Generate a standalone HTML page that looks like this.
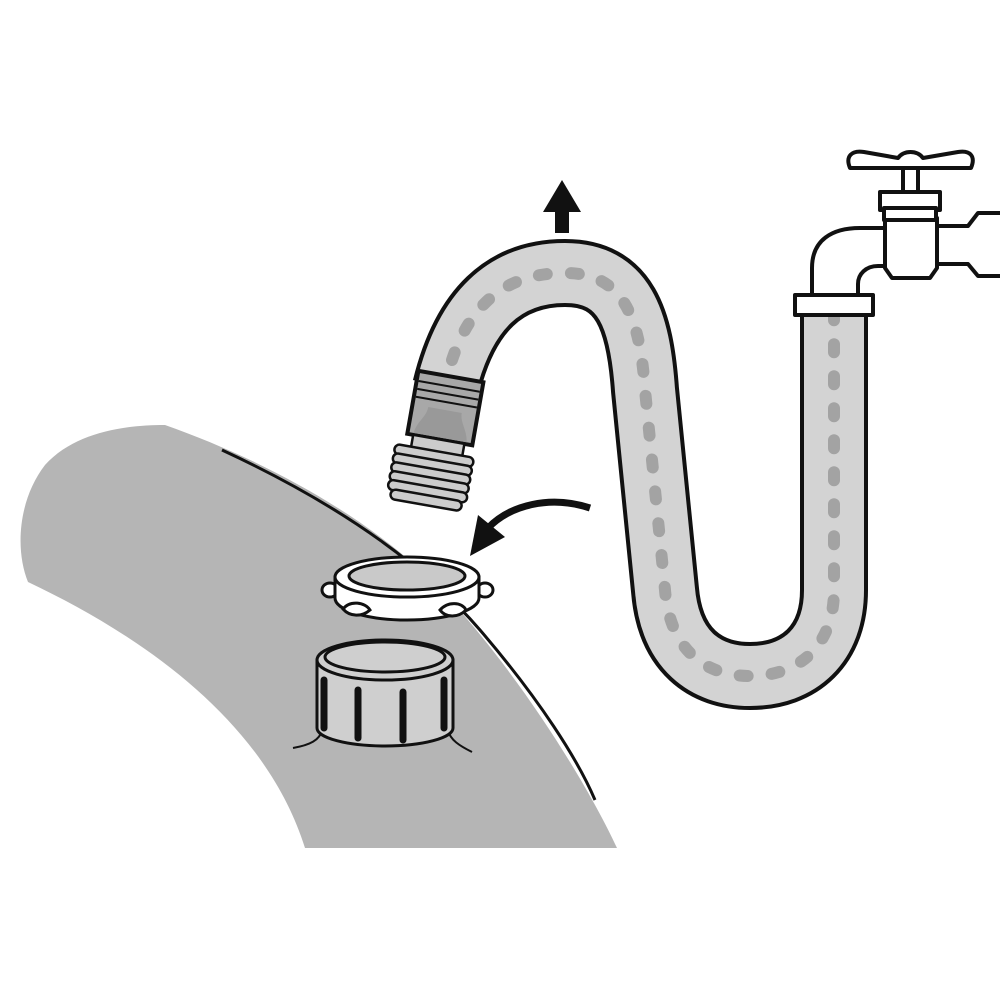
<!DOCTYPE html>
<html><head><style>html,body{margin:0;padding:0;background:#fff}svg{display:block}</style></head>
<body>
<svg width="1000" height="1000" viewBox="0 0 1000 1000" xmlns="http://www.w3.org/2000/svg">
<rect width="1000" height="1000" fill="#fff"/>
<!-- tub surface -->
<path d="M165,425 C270,462 385,525 455,605 C530,690 590,790 617,848 L305,848 C265,720 140,635 28,582 C15,550 18,500 45,465 C75,432 125,425 165,425 Z" fill="#b5b5b5"/>
<path d="M222,450 C330,500 420,560 480,630 C540,700 578,760 595,800" fill="none" stroke="#111" stroke-width="3"/>

<!-- hose -->
<g fill="none" stroke-linecap="butt">
<path d="M446,388 C465,310 505,273 565,273 C625,273 640,320 645,390 L665,590 C670,650 705,676 750,676 C800,676 834,645 834,590 L834,305" stroke="#111" stroke-width="68"/>
<path d="M446,388 C465,310 505,273 565,273 C625,273 640,320 645,390 L665,590 C670,650 705,676 750,676 C800,676 834,645 834,590 L834,305" stroke="#d3d3d3" stroke-width="60"/>
<path d="M452,360 C472,300 510,273 565,273 C625,273 640,320 645,390 L665,590 C670,650 705,676 750,676 C800,676 834,645 834,590 L834,318" stroke="#a3a3a3" stroke-width="12" stroke-linecap="round" stroke-dasharray="8 24"/>
</g>

<!-- coupling sleeve -->
<g transform="rotate(10 445 410)">
<rect x="412" y="376" width="66" height="64" fill="#a8a8a8" stroke="#111" stroke-width="4"/>
<line x1="414" y1="386" x2="476" y2="386" stroke="#111" stroke-width="2"/>
<line x1="414" y1="394" x2="476" y2="394" stroke="#111" stroke-width="2"/>
<line x1="414" y1="402" x2="476" y2="402" stroke="#111" stroke-width="2"/>
<path d="M418,438 C420,425 428,420 428,410 L462,410 C462,420 470,425 472,438 Z" fill="#999"/>
<rect x="418" y="440" width="52" height="14" fill="#ccc" stroke="#111" stroke-width="2.5"/>
<g fill="#ccc" stroke="#111" stroke-width="2.5">
<rect x="402" y="452" width="80" height="10" rx="5"/>
<rect x="402" y="461" width="80" height="10" rx="5"/>
<rect x="402" y="470" width="80" height="10" rx="5"/>
<rect x="402" y="479" width="80" height="10" rx="5"/>
<rect x="402" y="488" width="80" height="10" rx="5"/>
<rect x="406" y="497" width="72" height="10" rx="5"/>
</g>
</g>

<!-- up arrow -->
<polygon points="543,212 581,212 562,180" fill="#111"/>
<rect x="555" y="210" width="14" height="23" fill="#111"/>

<!-- curved arrow -->
<path d="M590,508 C550,495 510,505 488,528" fill="none" stroke="#111" stroke-width="7"/>
<polygon points="470,556 478,515 505,537" fill="#111"/>

<!-- ring -->
<g stroke="#111" stroke-width="3">
<ellipse cx="330" cy="590" rx="8" ry="7" fill="#fff"/>
<ellipse cx="485" cy="590" rx="8" ry="7" fill="#fff"/>
<path d="M335,577 L335,598 A72,22 0 0 0 479,598 L479,577 Z" fill="#fff"/>
<ellipse cx="407" cy="577" rx="72" ry="20" fill="#fff"/>
<ellipse cx="407" cy="576" rx="58" ry="14" fill="#c9c9c9"/>
<path d="M343,609 C350,600 365,602 370,610 C362,617 350,617 343,609 Z" fill="#fff"/>
<path d="M440,610 C448,601 462,602 466,610 C458,618 446,618 440,610 Z" fill="#fff"/>
</g>

<!-- cap -->
<g stroke="#111" stroke-width="3">
<path d="M293,748 C310,745 320,740 322,730 M448,730 C450,740 460,746 472,752" fill="none" stroke-width="2"/>
<path d="M317,660 L317,728 A68,18 0 0 0 453,728 L453,660 Z" fill="#cfcfcf"/>
<ellipse cx="385" cy="660" rx="68" ry="20" fill="#cfcfcf"/>
<ellipse cx="385" cy="657" rx="60" ry="15" fill="#cfcfcf"/>
</g>
<g stroke="#111" stroke-width="7" stroke-linecap="round">
<line x1="324" y1="680" x2="324" y2="728"/>
<line x1="358" y1="690" x2="358" y2="738"/>
<line x1="403" y1="692" x2="403" y2="740"/>
<line x1="444" y1="680" x2="444" y2="728"/>
</g>

<!-- faucet -->
<g stroke="#111" stroke-width="4" fill="#fff" stroke-linejoin="round">
<path d="M812,296 L812,268 C812,240 832,228 860,228 L887,228 L887,266 L878,266 C866,266 858,274 858,284 L858,296 Z"/>
<path d="M937,226 L968,226 L978,213 L1002,213 L1002,276 L978,276 L968,264 L937,264 Z"/>
<path d="M885,218 L937,218 L937,268 L930,278 L892,278 L885,268 Z"/>
<rect x="795" y="295" width="78" height="20"/>
<rect x="880" y="192" width="60" height="18"/>
<rect x="884" y="208" width="52" height="12"/>
<rect x="903" y="168" width="15" height="24"/>
<path d="M850,168 C845,156 852,150 864,152 L898,158 C904,150 917,150 923,158 L958,152 C970,150 976,156 971,168 Z"/>
</g>
</svg>
</body></html>
